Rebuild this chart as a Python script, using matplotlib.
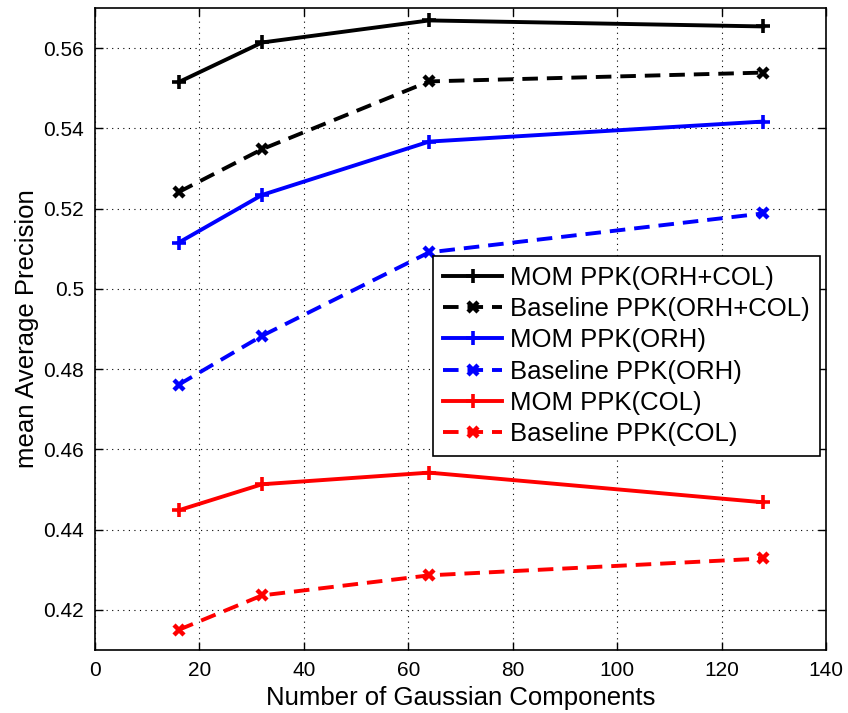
import numpy as np
import matplotlib
matplotlib.use("Agg")
import matplotlib.pyplot as plt
from matplotlib.ticker import FuncFormatter

# data
n_components = [16, 32, 64, 128]

mom_orh_col = [0.5515, 0.5614, 0.5669, 0.5654]
base_orh_col = [0.5241, 0.5348, 0.5517, 0.5539]
mom_orh = [0.5115, 0.5234, 0.5367, 0.5417]
base_orh = [0.4761, 0.4883, 0.5091, 0.5188]
mom_col = [0.4448, 0.4513, 0.4542, 0.4468]
base_col = [0.4150, 0.4236, 0.4286, 0.4328]

labels = [
    "MOM PPK(ORH+COL)", "Baseline PPK(ORH+COL)",
    "MOM PPK(ORH)", "Baseline PPK(ORH)",
    "MOM PPK(COL)", "Baseline PPK(COL)",
]

plt.rcParams['font.family'] = ['Liberation Sans', 'DejaVu Sans']

fig = plt.figure(figsize=(8.48, 7.13), dpi=100)
ax = fig.add_axes([0.112, 0.0884, 0.862, 0.9004])

dash = (0, (4.0, 2.3))
series = [
    (mom_orh_col, 'k', '-', '+'),
    (base_orh_col, 'k', dash, 'x'),
    (mom_orh, 'b', '-', '+'),
    (base_orh, 'b', dash, 'x'),
    (mom_col, 'r', '-', '+'),
    (base_col, 'r', dash, 'x'),
]

for (vals, c, ls, mk), lab in zip(series, labels):
    if mk == '+':
        ax.plot(n_components, vals, color=c, linestyle=ls, linewidth=2.8,
                marker=mk, markersize=10, markeredgewidth=2.6, label=lab)
    else:
        ax.plot(n_components, vals, color=c, linestyle=ls, linewidth=2.8,
                marker=mk, markersize=6.5, markeredgewidth=3.2, label=lab)

ax.set_xlim(0, 140)
ax.set_ylim(0.41, 0.57)
ax.set_xticks(np.arange(0, 141, 20))
ax.set_yticks(np.arange(0.42, 0.561, 0.02))
ax.yaxis.set_major_formatter(FuncFormatter(lambda v, p: f"{v:g}"))

ax.grid(True, linestyle=(0, (1, 4)), color='k', linewidth=0.8)
ax.tick_params(direction='in', top=True, right=True, length=6, width=1,
               labelsize=15, pad=8)
for s in ax.spines.values():
    s.set_linewidth(1.2)

ax.set_xlabel("Number of Gaussian Components", fontsize=18.5, labelpad=4)
ax.set_ylabel("mean Average Precision", fontsize=18.5, labelpad=3)

leg = ax.legend(loc='upper right', bbox_to_anchor=(0.992, 0.614),
                borderaxespad=0, fontsize=18.5, handlelength=2.3,
                handletextpad=0.3, labelspacing=0.28, borderpad=0.4,
                fancybox=False, framealpha=1, edgecolor='k')
leg.get_frame().set_linewidth(1.2)

fig.savefig("out.png", dpi=100)
